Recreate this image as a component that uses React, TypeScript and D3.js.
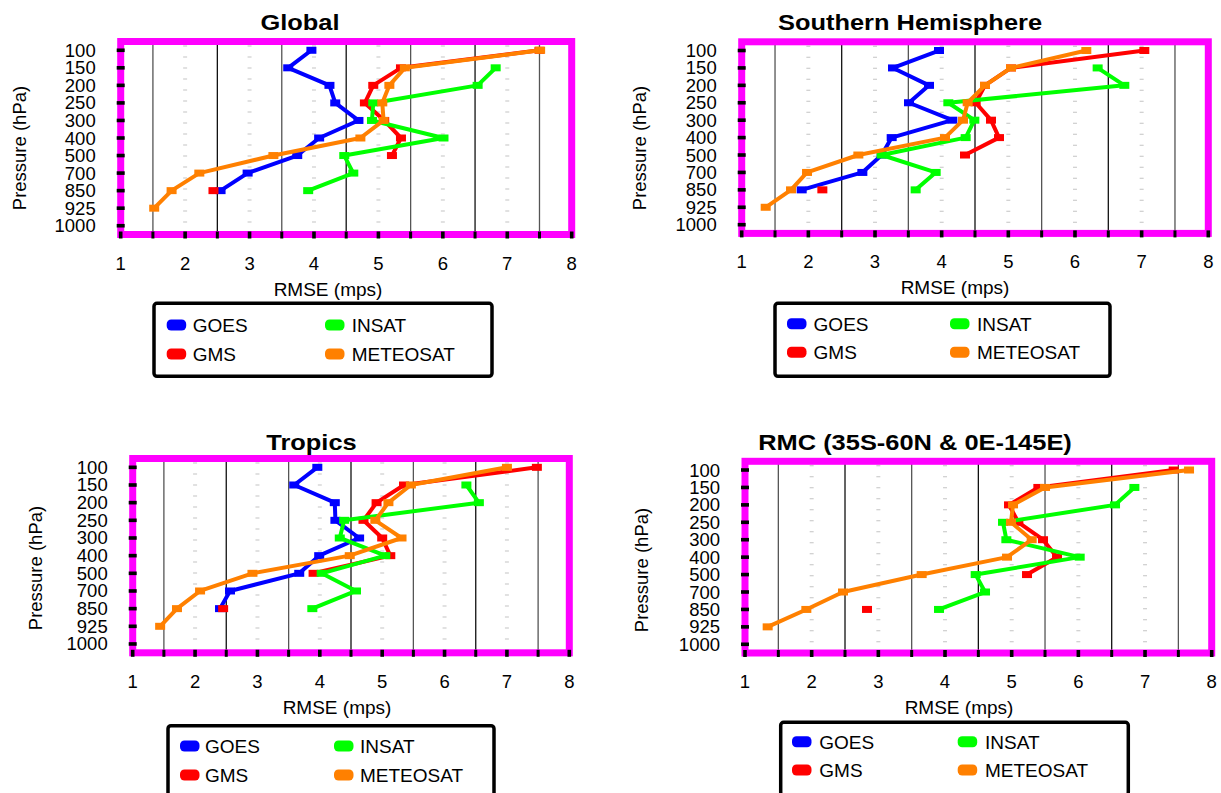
import React from "react";
import * as d3 from "d3";

// pressure levels (hPa), top to bottom
const levels = ["100", "150", "200", "250", "300", "400", "500", "700", "850", "925", "1000"];
const seriesNames = ["GOES", "GMS", "INSAT", "METEOSAT"];
const seriesColors = ["#0000ff", "#ff0000", "#00ff00", "#ff8000"];
const xTicks = [1, 2, 3, 4, 5, 6, 7, 8];

type V = number | null;

// RMSE (mps) by level, same order as levels
const globalGoes: V[] = [3.96, 3.6, 4.24, 4.33, 4.69, 4.08, 3.74, 2.97, 2.55, null, null];
const globalGms: V[] = [7.5, 5.35, 4.92, 4.79, 5.09, 5.35, 5.21, null, 2.44, null, null];
const globalInsat: V[] = [null, 6.82, 6.54, 4.92, 4.9, 6.01, 4.47, 4.61, 3.91, null, null];
const globalMeteosat: V[] = [7.51, 5.41, 5.17, 5.06, 5.08, 4.72, 3.37, 2.22, 1.79, 1.52, null];

const shGoes: V[] = [3.96, 3.27, 3.81, 3.51, 4.16, 3.25, 3.1, 2.81, 1.9, null, null];
const shGms: V[] = [7.04, 5.04, 4.65, 4.51, 4.74, 4.86, 4.35, null, 2.21, null, null];
const shInsat: V[] = [null, 6.34, 6.74, 4.1, 4.49, 4.36, 3.1, 3.91, 3.61, null, null];
const shMeteosat: V[] = [6.17, 5.04, 4.65, 4.39, 4.32, 4.05, 2.75, 1.98, 1.74, 1.36, null];

const trGoes: V[] = [3.96, 3.59, 4.24, 4.25, 4.63, 3.99, 3.67, 2.56, 2.4, null, null];
const trGms: V[] = [7.48, 5.35, 4.91, 4.7, 5.0, 5.13, 3.9, null, 2.45, null, null];
const trInsat: V[] = [null, 6.35, 6.55, 4.39, 4.32, 5.05, 4.03, 4.58, 3.88, null, null];
const trMeteosat: V[] = [7.0, 5.46, 5.1, 4.89, 5.31, 4.48, 2.92, 2.08, 1.71, 1.44, null];

const rmcGoes: V[] = [null, null, null, null, null, null, null, null, null, null, null];
const rmcGms: V[] = [7.43, 5.4, 4.96, 5.1, 5.47, 5.68, 5.23, null, 2.83, null, null];
const rmcInsat: V[] = [null, 6.84, 6.55, 4.87, 4.92, 6.02, 4.46, 4.6, 3.91, null, null];
const rmcMeteosat: V[] = [7.66, 5.5, 5.02, 4.99, 5.3, 4.93, 3.65, 2.47, 1.92, 1.34, null];

const FONT = "'Liberation Sans', Arial, Helvetica, sans-serif";

type Legend = { x: number; y: number; w: number; h: number; r1: number; r2: number; s1: number; t1: number; s2: number; t2: number };
type PanelCfg = {
  title: string; titleX: number; titleY: number;
  left: number; right: number; top: number; bottom: number;
  xLabelX: number; yLabelX: number; yLabelY: number;
  series: V[][]; legend: Legend;
};

const panels: PanelCfg[] = [
  {
    title: "Global", titleX: 300, titleY: 29.5,
    left: 120.7, right: 571.7, top: 41.5, bottom: 234.5,
    xLabelX: 328, yLabelX: 26, yLabelY: 148,
    series: [globalGoes, globalGms, globalInsat, globalMeteosat],
    legend: { x: 154, y: 303.3, w: 338, h: 73, r1: 21.7, r2: 50.7, s1: 12.7, t1: 38.7, s2: 171, t2: 197.7 },
  },
  {
    title: "Southern Hemisphere", titleX: 910, titleY: 29.5,
    left: 741.7, right: 1208.3, top: 41.8, bottom: 233.4,
    xLabelX: 955, yLabelX: 646, yLabelY: 148,
    series: [shGoes, shGms, shInsat, shMeteosat],
    legend: { x: 775, y: 303.3, w: 335, h: 73, r1: 20.5, r2: 49, s1: 12, t1: 38.6, s2: 175, t2: 202 },
  },
  {
    title: "Tropics", titleX: 311.5, titleY: 450,
    left: 132.7, right: 569.3, top: 458.5, bottom: 652.8,
    xLabelX: 337, yLabelX: 41.5, yLabelY: 568,
    series: [trGoes, trGms, trInsat, trMeteosat],
    legend: { x: 168, y: 725.7, w: 326, h: 73, r1: 20.3, r2: 49.3, s1: 12, t1: 37, s2: 166, t2: 192 },
  },
  {
    title: "RMC (35S-60N & 0E-145E)", titleX: 915, titleY: 450,
    left: 745, right: 1211.7, top: 461.3, bottom: 653,
    xLabelX: 959, yLabelX: 648, yLabelY: 570,
    series: [rmcGoes, rmcGms, rmcInsat, rmcMeteosat],
    legend: { x: 780.7, y: 722.3, w: 347.6, h: 73, r1: 19.4, r2: 47.7, s1: 11.3, t1: 38.6, s2: 177, t2: 204.3 },
  },
];

// draw order: GOES, GMS, INSAT, METEOSAT on top
const drawOrder = [0, 1, 2, 3];

function Panel({ cfg }: { cfg: PanelCfg }) {
  const x = d3.scaleLinear().domain([1, 8]).range([cfg.left, cfg.right]);
  const y = d3.scaleBand<string>().domain(levels).range([cfg.top, cfg.bottom]);
  const yc = (l: string) => (y(l) as number) + y.bandwidth() / 2;

  const halfTicks = d3.range(1, 8.01, 0.5);
  const solidLines = d3.range(1.5, 8, 1);
  const dashLines = d3.range(2, 8, 1);

  const line = d3
    .line<V>()
    .defined((d) => d != null)
    .x((d) => x(d as number))
    .y((_, i) => yc(levels[i]));

  const lg = cfg.legend;

  return (
    <g>
      <text
        transform={`translate(${cfg.titleX},${cfg.titleY}) scale(1.13,1)`}
        textAnchor="middle"
        fontSize={22.5}
        fontWeight="bold"
        fontFamily={FONT}
      >
        {cfg.title}
      </text>

      {/* grid */}
      {dashLines.map((v) => (
        <line
          key={"d" + v}
          x1={x(v)}
          x2={x(v)}
          y1={cfg.top + 4}
          y2={cfg.bottom}
          stroke="#c4c4c4"
          strokeWidth={4}
          strokeDasharray="1 10"
        />
      ))}
      {solidLines.map((v, i) => (
        <line
          key={"s" + v}
          x1={x(v)}
          x2={x(v)}
          y1={cfg.top}
          y2={cfg.bottom}
          stroke={i % 2 === 0 ? "#555" : "#111"}
          strokeWidth={1.3}
        />
      ))}

      {/* frame */}
      <rect
        x={cfg.left}
        y={cfg.top}
        width={cfg.right - cfg.left}
        height={cfg.bottom - cfg.top}
        fill="none"
        stroke="#ff00ff"
        strokeWidth={7}
      />
      {levels.map((l) => (
        <rect key={"yt" + l} x={cfg.left - 4} y={yc(l) - 1.8} width={8} height={3.6} fill="#000" />
      ))}
      {halfTicks.map((v) => {
        const w = Number.isInteger(v) ? 3.6 : 3;
        return <rect key={"xt" + v} x={x(v) - w / 2} y={cfg.bottom - 3} width={w} height={7} fill="#000" />;
      })}

      {/* data */}
      {drawOrder.map((si) => {
        const vals = cfg.series[si];
        return (
          <g key={"ser" + si}>
            <path d={line(vals) || ""} fill="none" stroke={seriesColors[si]} strokeWidth={4} strokeLinejoin="round" />
            {vals.map((v, i) =>
              v == null ? null : (
                <rect key={i} x={x(v) - 5} y={yc(levels[i]) - 3.5} width={10} height={7} fill={seriesColors[si]} />
              )
            )}
          </g>
        );
      })}

      {/* axes labels */}
      {levels.map((l) => (
        <text key={"yl" + l} x={cfg.left - 25} y={yc(l) + 6.5} textAnchor="end" fontSize={18.5} fontFamily={FONT}>
          {l}
        </text>
      ))}
      {xTicks.map((t) => (
        <text key={"xl" + t} x={x(t)} y={cfg.bottom + 35} textAnchor="middle" fontSize={18.5} fontFamily={FONT}>
          {t}
        </text>
      ))}
      <text x={cfg.xLabelX} y={cfg.bottom + 61} textAnchor="middle" fontSize={19} fontFamily={FONT}>
        RMSE (mps)
      </text>
      <text
        transform={`translate(${cfg.yLabelX},${cfg.yLabelY}) rotate(-90)`}
        textAnchor="middle"
        fontSize={18.5}
        fontFamily={FONT}
      >
        Pressure (hPa)
      </text>

      {/* legend: GOES/GMS in the first column, INSAT/METEOSAT in the second */}
      <rect x={lg.x} y={lg.y} width={lg.w} height={lg.h} rx={3} fill="#fff" stroke="#000" strokeWidth={3.5} />
      {seriesNames.map((name, i) => {
        const col = i < 2 ? 0 : 1;
        const row = i % 2 === 0 ? lg.r1 : lg.r2;
        const sx = lg.x + (col === 0 ? lg.s1 : lg.s2);
        const tx = lg.x + (col === 0 ? lg.t1 : lg.t2);
        const cy = lg.y + row;
        return (
          <g key={"lg" + name}>
            <rect x={sx} y={cy - 5.5} width={19.5} height={11} rx={4.5} fill={seriesColors[i]} />
            <text x={tx} y={cy + 7} fontSize={19} fontFamily={FONT}>
              {name}
            </text>
          </g>
        );
      })}
    </g>
  );
}

export default function App() {
  return (
    <svg
      width={1221}
      height={793}
      viewBox="0 0 1221 793"
      style={{ position: "absolute", left: 0, top: 0, background: "#fff" }}
    >
      <rect width={1221} height={793} fill="#fff" />
      {panels.map((p) => (
        <Panel key={p.title} cfg={p} />
      ))}
    </svg>
  );
}
